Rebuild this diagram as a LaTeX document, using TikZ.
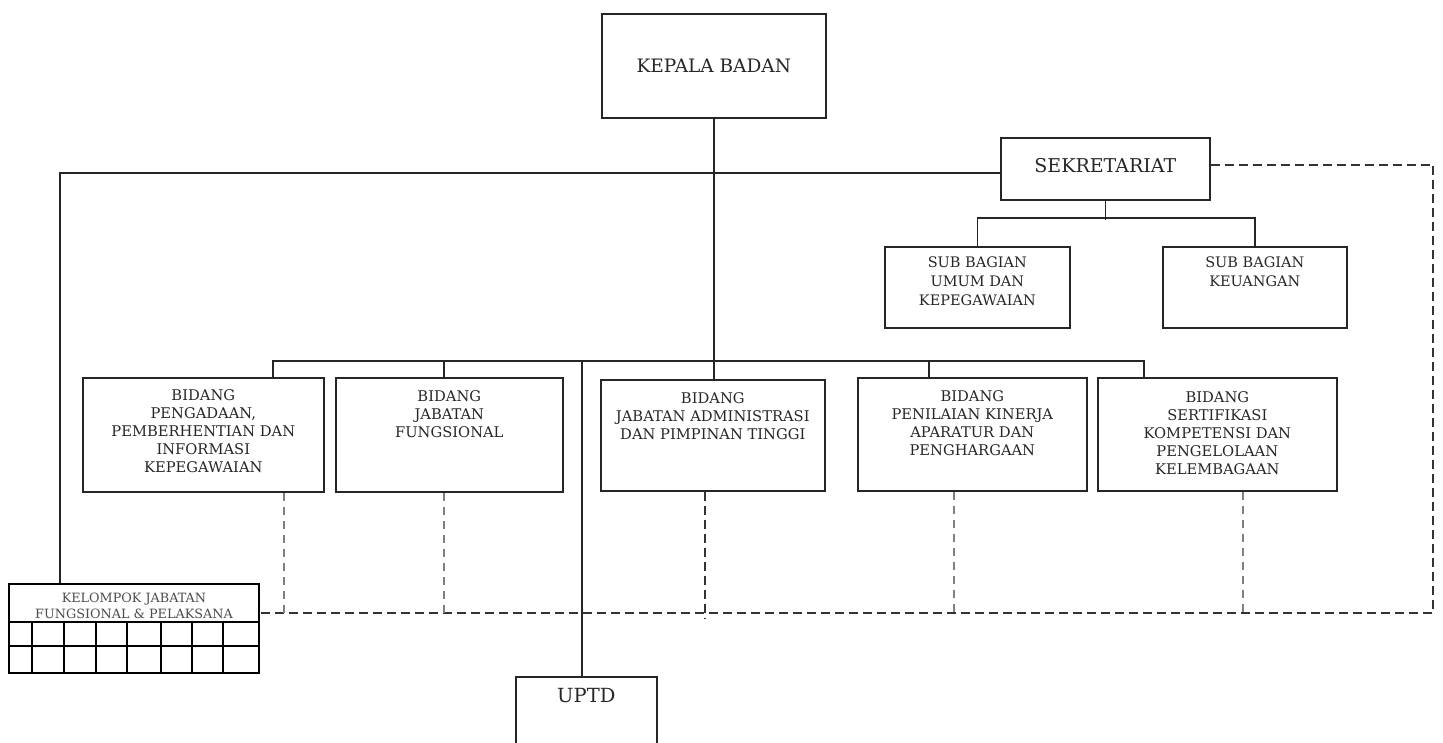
\documentclass[tikz,border=0pt]{standalone}
\usepackage{fontspec}
\setmainfont{DejaVu Serif}
\begin{document}
\begin{tikzpicture}[x=1pt,y=-1pt,
  box/.style={draw=black!85, line width=1.6pt, inner sep=0pt, anchor=north west},
  big/.style={font=\fontsize{18.5}{22}\selectfont, text=black!85},
  txt/.style={font=\fontsize{14.7}{18}\selectfont, align=center, text=black!85, anchor=north, inner sep=0pt},
  stxt/.style={font=\fontsize{14.5}{19}\selectfont, align=center, text=black!85, anchor=north, inner sep=0pt},
  ktxt/.style={font=\fontsize{12.8}{16}\selectfont, align=center, text=black!70, anchor=north, inner sep=0pt},
  ln/.style={draw=black!85, line width=1.5pt},
  grid/.style={draw=black, line width=2pt},
  dsh/.style={draw=black!80, line width=1.5pt, dash pattern=on 9pt off 5pt},
  gdsh/.style={draw=black!50, line width=1.4pt, dash pattern=on 8pt off 6pt}]
\useasboundingbox (0,0) rectangle (1443,743);
% boxes
\node[box, big, minimum width=224pt, minimum height=104pt] (kepala) at (601,13) {KEPALA BADAN};
\node[box, minimum width=209pt, minimum height=62pt] (sek) at (1000,137) {};
\node[big, font=\fontsize{19}{22}\selectfont, inner sep=0pt] (sekt) at ([yshift=3]sek.center) {SEKRETARIAT};
\node[box, minimum width=185pt, minimum height=81pt] (umum) at (884,246) {};
\node[stxt] (umumt) at ([yshift=-11]umum.north) {SUB BAGIAN\\UMUM DAN\\KEPEGAWAIAN};
\node[box, minimum width=184pt, minimum height=81pt] (keu) at (1162,246) {};
\node[stxt] (keut) at ([yshift=-11]keu.north) {SUB BAGIAN\\KEUANGAN};
\node[box, minimum width=241pt, minimum height=114pt] (b1) at (82,377) {};
\node[txt] (b1t) at ([yshift=-12]b1.north) {BIDANG\\PENGADAAN,\\PEMBERHENTIAN DAN\\INFORMASI\\KEPEGAWAIAN};
\node[box, minimum width=227pt, minimum height=114pt] (b2) at (335,377) {};
\node[txt] (b2t) at ([yshift=-13]b2.north) {BIDANG\\JABATAN\\FUNGSIONAL};
\node[box, minimum width=224pt, minimum height=111pt] (b3) at (600,379) {};
\node[txt] (b3t) at ([yshift=-13]b3.north) {BIDANG\\JABATAN ADMINISTRASI\\DAN PIMPINAN TINGGI};
\node[box, minimum width=229pt, minimum height=113pt] (b4) at (857,377) {};
\node[txt] (b4t) at ([yshift=-13]b4.north) {BIDANG\\PENILAIAN KINERJA\\APARATUR DAN\\PENGHARGAAN};
\node[box, minimum width=239pt, minimum height=113pt] (b5) at (1097,377) {};
\node[txt] (b5t) at ([yshift=-14]b5.north) {BIDANG\\SERTIFIKASI\\KOMPETENSI DAN\\PENGELOLAAN\\KELEMBAGAAN};
\node[box, line width=2pt, draw=black, minimum width=250pt, minimum height=89pt] (kel) at (8,583) {};
\node[ktxt] (kelt) at ([yshift=-10]kel.north) {KELOMPOK JABATAN\\FUNGSIONAL \& PELAKSANA};
\node[box, minimum width=141pt, minimum height=80pt] (uptd) at (515,676) {};
\node[big, font=\fontsize{19.5}{22}\selectfont, anchor=north, inner sep=0pt] (uptdt) at ([yshift=-12]uptd.north) {UPTD};
% grid in kelompok
\coordinate (g1) at (8,622);
\coordinate (g2) at (8,646);
\draw[grid] (g1) -- (g1 -| kel.east);
\draw[grid] (g2) -- (g2 -| kel.east);
\foreach \gx in {32,64,96,127,161,192,223}{
  \draw[grid] (\gx,622) -- (\gx,672);
}
% coordinates
\coordinate (bus) at (0,361);
\coordinate (s1) at ([xshift=191]b1.north west);
\coordinate (s2) at ([xshift=109]b2.north west);
\coordinate (s4) at ([xshift=72]b4.north west);
\coordinate (s5) at ([xshift=47]b5.north west);
\coordinate (u1) at ([xshift=67]uptd.north west);
\coordinate (kx) at ([xshift=52]kel.north west);
\coordinate (dR) at (1433,613);
\coordinate (dR2) at (1433,618);
\coordinate (d1) at ([xshift=202]b1.south west);
\coordinate (d2) at ([xshift=109]b2.south west);
\coordinate (d3) at ([xshift=105]b3.south west);
\coordinate (d4) at ([xshift=97]b4.south west);
\coordinate (d5) at ([xshift=146]b5.south west);
% solid connectors
\draw[ln] (kepala.south) -- (kepala.south |- b3.north);
\draw[ln] (s1) -- (s1 |- bus) -- (s5 |- bus) -- (s5);
\draw[ln] (s2) -- (s2 |- bus);
\draw[ln] (s4) -- (s4 |- bus);
\draw[ln] (u1 |- bus) -- (u1);
\draw[ln] ([yshift=-4]sek.west) -| (kx);
\draw[ln] (sek.south) -- ++(0,19);
\draw[ln] (umum.north) -- ++(0,-28) -| (keu.north);
% dashed connectors
\draw[dsh] ([yshift=4]sek.east) -| (dR) -- (dR -| kel.east);
\draw[gdsh] (d1) -- (d1 |- dR);
\draw[gdsh] (d2) -- (d2 |- dR);
\draw[dsh] (d3) -- (d3 |- dR2);
\draw[gdsh] (d4) -- (d4 |- dR);
\draw[gdsh] (d5) -- (d5 |- dR);
\end{tikzpicture}
\end{document}
